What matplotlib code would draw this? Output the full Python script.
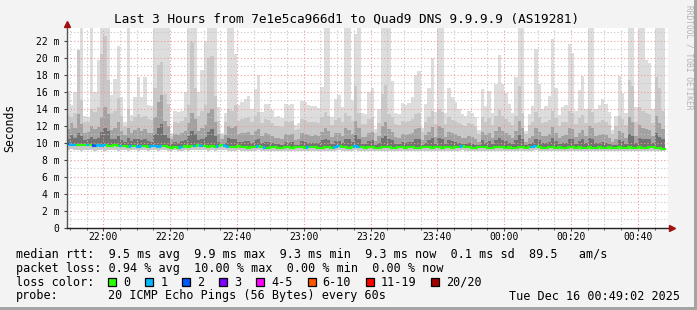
import numpy as np
import pandas as pd
import matplotlib
matplotlib.use("Agg")
import matplotlib.pyplot as plt
import matplotlib.dates as mdates
from matplotlib.collections import LineCollection
from matplotlib.patches import Rectangle

# ==========================================
# 1. Data (1 step = 60 s)
# ==========================================
START = "2025-12-15 21:49:00"
GRAPH_START = pd.Timestamp("2025-12-15 21:49:02")
GRAPH_END = pd.Timestamp("2025-12-16 00:49:02")

# top of the smoke (slowest ping), ms; 26 = clipped at the top of the graph
ping_max = [
    16.1, 14.4, 16.0, 20.9, 26.0, 13.2, 13.0, 26.0, 16.0, 19.7,
    26.0, 26.0, 26.0, 15.6, 17.5, 21.4, 15.4, 12.4, 26.0, 13.3,
    15.4, 17.7, 15.4, 17.7, 14.4, 14.3, 26.0, 26.0, 26.0, 26.0,
    26.0, 11.1, 13.8, 13.6, 13.8, 16.0, 26.0, 26.0, 26.0, 16.0,
    18.5, 22.0, 26.0, 26.0, 26.0, 14.2, 11.2, 13.5, 26.0, 26.0,
    20.4, 14.5, 14.8, 15.1, 15.5, 14.0, 16.3, 18.0, 13.6, 14.6,
    14.6, 13.9, 13.0, 13.1, 12.9, 14.6, 14.5, 14.6, 12.1, 12.3,
    14.9, 14.8, 14.4, 14.3, 14.3, 14.1, 16.6, 26.0, 26.0, 13.0,
    15.2, 15.6, 14.2, 26.0, 26.0, 15.0, 22.8, 26.0, 13.5, 13.4,
    16.0, 16.4, 11.6, 14.0, 26.0, 26.0, 26.0, 17.3, 13.5, 13.4,
    14.7, 14.5, 14.7, 15.4, 18.0, 18.4, 11.8, 14.6, 16.4, 20.0,
    13.6, 26.0, 26.0, 13.5, 16.4, 15.4, 14.8, 14.0, 13.4, 13.2,
    13.8, 13.5, 13.0, 11.5, 16.3, 14.3, 16.1, 13.5, 16.9, 20.3,
    16.9, 15.8, 14.6, 13.5, 17.7, 26.0, 26.0, 11.4, 13.4, 14.3,
    21.0, 16.9, 14.0, 14.3, 15.5, 22.2, 16.4, 13.3, 14.2, 14.5,
    21.6, 20.6, 13.7, 16.2, 17.9, 14.0, 26.0, 26.0, 14.0, 14.5,
    15.2, 14.6, 13.6, 11.5, 13.2, 17.8, 15.9, 13.5, 26.0, 26.0,
    14.2, 26.0, 26.0, 19.7, 19.4, 14.0, 26.0, 26.0, 26.0,
]

# upper edge of the second smoke band
ping_q2 = [
    13.2, 13.0, 13.5, 20.9, 15.0, 12.5, 12.4, 14.0, 13.6, 14.2,
    20.4, 22.5, 17.4, 13.5, 13.8, 15.3, 13.2, 11.9, 14.0, 12.6,
    13.0, 13.4, 13.0, 13.2, 12.8, 12.7, 16.5, 19.1, 19.5, 15.7,
    14.6, 10.8, 12.5, 12.3, 12.6, 13.0, 14.5, 21.9, 16.5, 13.2,
    13.8, 14.5, 20.0, 20.2, 15.5, 12.6, 10.9, 12.4, 14.0, 13.8,
    14.5, 12.6, 12.8, 12.9, 13.0, 12.4, 13.1, 13.6, 12.3, 12.8,
    12.7, 12.3, 12.0, 12.0, 11.9, 12.6, 12.5, 12.6, 11.5, 11.6,
    12.8, 12.7, 12.5, 12.4, 12.5, 12.3, 13.0, 13.6, 13.2, 12.1,
    12.7, 12.9, 12.4, 13.5, 13.2, 12.6, 16.7, 13.5, 12.2, 12.2,
    12.8, 13.0, 11.2, 12.3, 15.7, 16.8, 13.4, 13.0, 12.2, 12.1,
    12.6, 12.5, 12.6, 12.8, 13.4, 13.5, 11.3, 12.5, 13.0, 13.8,
    12.2, 14.0, 13.6, 12.2, 13.0, 12.7, 12.6, 12.3, 12.1, 12.0,
    12.3, 12.2, 11.9, 11.0, 13.0, 12.4, 12.9, 12.1, 13.1, 13.9,
    13.1, 12.8, 12.5, 12.1, 13.2, 16.7, 13.5, 11.0, 12.1, 12.4,
    13.6, 13.0, 12.3, 12.4, 12.7, 13.8, 12.9, 12.0, 12.4, 12.5,
    13.7, 13.5, 12.2, 12.9, 13.3, 12.3, 14.0, 13.6, 12.3, 12.5,
    12.7, 12.5, 12.1, 11.0, 12.0, 13.2, 12.8, 12.1, 17.4, 16.7,
    12.4, 14.2, 13.8, 13.5, 13.4, 12.3, 17.7, 16.4, 13.8,
]

# upper edge of the third smoke band
ping_q3 = [
    11.6, 12.3, 11.8, 13.4, 12.2, 11.2, 11.3, 12.0, 11.6, 11.9,
    13.0, 14.2, 13.4, 11.5, 11.7, 12.4, 11.4, 10.9, 11.8, 11.2,
    11.5, 11.8, 11.4, 11.6, 11.2, 11.1, 13.0, 14.8, 15.6, 12.6,
    12.0, 10.4, 11.0, 10.9, 11.1, 11.4, 12.3, 13.5, 12.8, 11.4,
    11.8, 12.1, 13.5, 14.0, 12.4, 11.0, 10.4, 10.9, 12.0, 11.7,
    12.0, 11.0, 11.1, 11.2, 11.3, 10.9, 11.4, 11.6, 10.8, 11.1,
    11.0, 10.8, 10.6, 10.6, 10.5, 11.0, 10.9, 11.0, 10.3, 10.4,
    11.1, 11.0, 10.9, 10.8, 10.9, 10.8, 11.3, 11.8, 11.4, 10.7,
    11.1, 11.2, 10.8, 11.7, 11.5, 11.0, 12.6, 11.7, 10.7, 10.7,
    11.1, 11.3, 10.2, 10.8, 12.0, 12.4, 11.6, 11.3, 10.7, 10.6,
    11.0, 10.9, 11.0, 11.1, 11.6, 11.7, 10.3, 10.9, 11.3, 11.9,
    10.7, 12.0, 11.7, 10.7, 11.3, 11.1, 11.0, 10.8, 10.6, 10.6,
    10.8, 10.7, 10.5, 10.1, 11.3, 10.9, 11.2, 10.6, 11.4, 11.9,
    11.4, 11.1, 10.9, 10.6, 11.4, 12.6, 11.7, 10.1, 10.6, 10.8,
    11.8, 11.3, 10.8, 10.8, 11.0, 11.9, 11.2, 10.6, 10.8, 10.9,
    11.8, 11.6, 10.7, 11.2, 11.5, 10.8, 12.0, 11.7, 10.8, 10.9,
    11.0, 10.9, 10.6, 10.1, 10.5, 11.4, 11.1, 10.6, 13.0, 12.4,
    10.8, 12.1, 11.8, 11.6, 11.5, 10.8, 13.2, 12.3, 11.6,
]

# upper edge of the dark core of the smoke
ping_q4 = [
    10.5, 10.9, 10.6, 11.2, 10.8, 10.3, 10.4, 10.7, 10.5, 10.6,
    11.3, 11.8, 11.4, 10.4, 10.5, 10.8, 10.3, 10.1, 10.6, 10.2,
    10.4, 10.5, 10.3, 10.4, 10.2, 10.1, 11.0, 11.7, 12.2, 10.9,
    10.6, 9.9, 10.1, 10.0, 10.2, 10.3, 10.8, 11.4, 11.0, 10.3,
    10.5, 10.7, 11.3, 11.6, 10.8, 10.1, 9.9, 10.0, 10.6, 10.4,
    10.5, 10.1, 10.1, 10.2, 10.2, 10.0, 10.3, 10.4, 10.0, 10.1,
    10.1, 10.0, 9.9, 9.9, 9.8, 10.1, 10.0, 10.1, 9.8, 9.8,
    10.2, 10.1, 10.0, 10.0, 10.0, 10.0, 10.3, 10.5, 10.3, 9.9,
    10.2, 10.2, 10.0, 10.5, 10.4, 10.1, 10.9, 10.5, 9.9, 9.9,
    10.2, 10.3, 9.8, 10.0, 10.6, 10.8, 10.4, 10.3, 9.9, 9.9,
    10.1, 10.0, 10.1, 10.1, 10.4, 10.5, 9.8, 10.0, 10.3, 10.6,
    9.9, 10.6, 10.5, 9.9, 10.3, 10.2, 10.1, 10.0, 9.9, 9.9,
    10.0, 9.9, 9.8, 9.7, 10.3, 10.0, 10.2, 9.9, 10.3, 10.6,
    10.3, 10.2, 10.0, 9.9, 10.3, 10.9, 10.5, 9.7, 9.9, 10.0,
    10.5, 10.3, 10.0, 10.0, 10.1, 10.6, 10.2, 9.9, 10.0, 10.0,
    10.5, 10.4, 9.9, 10.2, 10.4, 10.0, 10.6, 10.5, 10.0, 10.0,
    10.1, 10.0, 9.9, 9.7, 9.8, 10.3, 10.2, 9.9, 11.0, 10.8,
    10.0, 10.6, 10.5, 10.4, 10.4, 10.0, 11.1, 10.7, 10.4,
]

# fastest ping
ping_min = [
    9.2, 9.3, 9.2, 9.2, 9.1, 9.2, 9.2, 9.2, 9.1, 9.2,
    9.2, 9.1, 9.2, 9.2, 9.2, 9.1, 9.2, 9.2, 9.1, 9.2,
    9.2, 9.1, 9.2, 9.2, 9.1, 9.2, 9.2, 9.1, 9.2, 9.2,
    9.1, 9.1, 9.2, 9.1, 9.1, 9.2, 9.1, 9.2, 9.2, 9.2,
    9.2, 9.2, 9.1, 9.2, 9.1, 9.2, 9.2, 9.2, 9.1, 9.1,
    9.1, 9.2, 9.1, 9.1, 9.1, 9.1, 9.1, 9.2, 9.1, 9.1,
    9.1, 9.1, 9.1, 9.1, 9.1, 9.1, 9.1, 9.1, 9.1, 9.1,
    9.1, 9.1, 9.1, 9.1, 9.1, 9.1, 9.1, 9.1, 9.1, 9.1,
    9.1, 9.2, 9.1, 9.1, 9.1, 9.1, 9.2, 9.1, 9.1, 9.1,
    9.1, 9.1, 9.1, 9.1, 9.1, 9.1, 9.1, 9.1, 9.1, 9.1,
    9.1, 9.1, 9.1, 9.1, 9.1, 9.1, 9.1, 9.1, 9.1, 9.1,
    9.1, 9.1, 9.1, 9.1, 9.1, 9.1, 9.1, 9.1, 9.2, 9.1,
    9.1, 9.1, 9.1, 9.1, 9.1, 9.1, 9.1, 9.1, 9.1, 9.1,
    9.1, 9.1, 9.1, 9.1, 9.1, 9.1, 9.1, 9.1, 9.1, 9.1,
    9.2, 9.1, 9.1, 9.1, 9.1, 9.1, 9.1, 9.1, 9.1, 9.1,
    9.1, 9.1, 9.1, 9.1, 9.1, 9.1, 9.1, 9.1, 9.1, 9.1,
    9.1, 9.1, 9.1, 9.1, 9.1, 9.1, 9.1, 9.1, 9.1, 9.1,
    9.1, 9.1, 9.1, 9.1, 9.1, 9.1, 9.1, 9.1, 9.0,
]

median_rtt = [
    9.9, 9.8, 9.8, 9.7, 9.7, 9.8, 9.7, 9.7, 9.6, 9.7,
    9.6, 9.7, 9.6, 9.6, 9.7, 9.6, 9.6, 9.6, 9.5, 9.6,
    9.6, 9.5, 9.6, 9.6, 9.5, 9.6, 9.6, 9.5, 9.6, 9.6,
    9.5, 9.4, 9.5, 9.4, 9.5, 9.6, 9.5, 9.6, 9.6, 9.7,
    9.6, 9.6, 9.5, 9.6, 9.5, 9.6, 9.7, 9.6, 9.5, 9.5,
    9.5, 9.6, 9.5, 9.5, 9.4, 9.5, 9.5, 9.6, 9.5, 9.4,
    9.4, 9.5, 9.5, 9.4, 9.4, 9.5, 9.5, 9.4, 9.5, 9.5,
    9.5, 9.4, 9.5, 9.5, 9.5, 9.4, 9.4, 9.5, 9.5, 9.4,
    9.5, 9.6, 9.5, 9.5, 9.4, 9.5, 9.6, 9.5, 9.5, 9.4,
    9.5, 9.5, 9.4, 9.4, 9.5, 9.5, 9.5, 9.4, 9.4, 9.5,
    9.5, 9.4, 9.5, 9.5, 9.4, 9.4, 9.5, 9.5, 9.5, 9.4,
    9.5, 9.5, 9.4, 9.5, 9.5, 9.4, 9.5, 9.5, 9.6, 9.5,
    9.5, 9.4, 9.4, 9.5, 9.5, 9.5, 9.4, 9.4, 9.5, 9.5,
    9.5, 9.4, 9.5, 9.4, 9.4, 9.5, 9.5, 9.4, 9.5, 9.5,
    9.6, 9.5, 9.4, 9.4, 9.5, 9.5, 9.4, 9.5, 9.4, 9.4,
    9.5, 9.5, 9.4, 9.5, 9.4, 9.4, 9.5, 9.4, 9.4, 9.5,
    9.4, 9.4, 9.5, 9.4, 9.4, 9.5, 9.4, 9.4, 9.5, 9.4,
    9.4, 9.5, 9.4, 9.4, 9.5, 9.5, 9.4, 9.4, 9.3,
]

# lost pings out of 20 per step
loss = [
    2, 1, 1, 0, 0, 0, 1, 0, 2, 1,
    1, 1, 0, 0, 0, 0, 1, 0, 0, 1,
    0, 1, 1, 0, 0, 1, 1, 1, 1, 0,
    0, 0, 0, 0, 1, 0, 0, 0, 1, 0,
    1, 0, 0, 0, 0, 1, 0, 1, 1, 0,
    0, 0, 0, 0, 0, 0, 0, 1, 0, 1,
    0, 0, 0, 0, 0, 0, 0, 0, 0, 0,
    0, 0, 1, 0, 0, 0, 0, 0, 0, 0,
    1, 1, 0, 0, 0, 0, 1, 1, 0, 0,
    0, 0, 0, 0, 0, 0, 0, 0, 0, 0,
    0, 0, 0, 0, 0, 0, 0, 0, 0, 0,
    0, 0, 0, 0, 0, 0, 0, 0, 1, 0,
    0, 0, 0, 0, 0, 0, 0, 0, 0, 0,
    0, 0, 0, 0, 0, 0, 0, 0, 0, 1,
    1, 0, 0, 0, 0, 0, 0, 0, 0, 0,
    0, 0, 0, 0, 0, 0, 0, 0, 0, 0,
    0, 0, 0, 0, 0, 0, 0, 0, 0, 0,
    0, 0, 0, 0, 0, 0, 0, 0, 0,
]

LOSS_LABELS = ["0", "1", "2", "3", "4-5", "6-10", "11-19", "20/20"]
LOSS_COLORS = ["#26ff00", "#00b8ff", "#0059ff", "#7e00ff",
               "#ff00ff", "#ff5500", "#ff0000", "#a10000"]
LOSS_BINS = [0, 1, 2, 3, 5, 10, 19, 20]

TITLE = "Last 3 Hours from 7e1e5ca966d1 to Quad9 DNS 9.9.9.9 (AS19281)"
LINE_RTT = "median rtt:  9.5 ms avg  9.9 ms max  9.3 ms min  9.3 ms now  0.1 ms sd  89.5   am/s"
LINE_LOSS = "packet loss: 0.94 % avg  10.00 % max  0.00 % min  0.00 % now"
PROBE = "20 ICMP Echo Pings (56 Bytes) every 60s"
STAMP = "Tue Dec 16 00:49:02 2025"

Y_TICKS = [0, 2, 4, 6, 8, 10, 12, 14, 16, 18, 20, 22]
Y_MAX = 23.49

# ==========================================
# 2. Figure
# ==========================================
W, H = 697, 310
MONO = "DejaVu Sans Mono"
plt.rcParams["font.family"] = MONO
BG = "#f3f3f3"


def px(x, y):
    return x / W, 1 - y / H


fig = plt.figure(figsize=(W / 100, H / 100), dpi=100, facecolor=BG)
ax_l, ax_r, ax_t, ax_b = 66.7, 668.0, 28.0, 228.0
ax = fig.add_axes([ax_l / W, 1 - ax_b / H, (ax_r - ax_l) / W, (ax_b - ax_t) / H])
ax.set_facecolor("white")

n = len(ping_max)
edges = pd.date_range(START, periods=n + 1, freq="1min")
xe = mdates.date2num(edges)


def ext(a):
    return np.append(a, a[-1])


lo = ext(ping_min)
med = np.array(median_rtt)
smoke = [
    (lo, ext(ping_max), "#dddddd"),
    (lo, ext(ping_q2), "#c8c8c8"),
    (ext(med), ext(ping_q3), "#a2a2a2"),
    (ext(med), ext(ping_q4), "#727272"),
]
for bot, top, col in smoke:
    ax.fill_between(xe, bot, top, step="post", color=col, linewidth=0,
                    antialiased=False, zorder=1)

# median line coloured by loss
def loss_color(k):
    for b, c in zip(LOSS_BINS, LOSS_COLORS):
        if k <= b:
            return c
    return LOSS_COLORS[-1]


segs, cols = [], []
for i in range(n):
    c = loss_color(loss[i])
    segs.append([(xe[i], med[i]), (xe[i + 1], med[i])])
    cols.append(c)
    if i > 0 and med[i] != med[i - 1]:
        segs.append([(xe[i], med[i - 1]), (xe[i], med[i])])
        cols.append(c)
ax.add_collection(LineCollection(segs, colors=cols, linewidths=1.5,
                                 capstyle="projecting", zorder=3))

ax.set_xlim(mdates.date2num(GRAPH_START), mdates.date2num(GRAPH_END))
ax.set_ylim(0, Y_MAX)

# grid: grey dotted minor, red dotted major
ax.xaxis.set_major_locator(mdates.MinuteLocator(byminute=[0, 20, 40]))
ax.xaxis.set_minor_locator(mdates.MinuteLocator(byminute=range(0, 60, 5)))
ax.xaxis.set_major_formatter(mdates.DateFormatter("%H:%M"))
ax.set_yticks(Y_TICKS)
ax.set_yticks(np.arange(1, 24, 2), minor=True)
ax.set_yticklabels(["0"] + [f"{v} m" for v in Y_TICKS[1:]])
ax.set_axisbelow(False)
ax.grid(which="minor", color="#c4c4c4", linestyle=(0, (1, 2)), linewidth=0.8)
ax.grid(which="major", color="#f09a9a", linestyle=(0, (1, 2)), linewidth=0.8)

ax.tick_params(which="both", labelsize=7, colors="#444444", labelcolor="black")
ax.tick_params(axis="y", which="major", length=2, pad=3.2)
ax.tick_params(axis="y", which="minor", length=0)
ax.tick_params(axis="x", which="major", length=2, pad=1.2)
ax.tick_params(axis="x", which="minor", length=1.5)
for s in ax.spines.values():
    s.set_visible(False)

# axes with arrows
ax.plot([0, 0], [0, 1.02], transform=ax.transAxes, color="#555555",
        linewidth=1, clip_on=False, zorder=4)
ax.plot([0, 1.004], [0, 0], transform=ax.transAxes, color="#222222",
        linewidth=1, clip_on=False, zorder=4)
ax.plot([0], [1.022], marker="^", markersize=4.5, color="#a01010",
        transform=ax.transAxes, clip_on=False, zorder=5)
ax.plot([1.007], [0], marker=">", markersize=4.5, color="#a01010",
        transform=ax.transAxes, clip_on=False, zorder=5)

# ==========================================
# 3. Texts / legend
# ==========================================
fig.text(*px(347, 19.3), TITLE, ha="center", va="center", fontsize=9.2)
fig.text(*px(10, 128), "Seconds", ha="center", va="center",
         rotation=90, fontsize=8.3)
fig.text(*px(689.5, 5), "RRDTOOL / TOBI OETIKER", ha="center", va="top",
         rotation=270, fontsize=5.7, color="#b4b4b4")

LEG = 8.5
CH = 7.1  # char advance in px
fig.text(*px(16, 254.3), LINE_RTT, va="center", fontsize=LEG)
fig.text(*px(16, 268.3), LINE_LOSS, va="center", fontsize=LEG)
fig.text(*px(16, 282.3), "loss color:", va="center", fontsize=LEG)
fig.text(*px(16, 296.0), "probe:", va="center", fontsize=LEG)
fig.text(*px(108.3, 296.0), PROBE, va="center", fontsize=LEG)
fig.text(*px(680, 296.0), STAMP, ha="right", va="center", fontsize=LEG)

bx = 108.3
for lab, col in zip(LOSS_LABELS, LOSS_COLORS):
    x0, y0 = px(bx, 286.3)
    fig.patches.append(Rectangle((x0, y0), 8 / W, 8 / H, transform=fig.transFigure,
                                 facecolor=col, edgecolor="black", linewidth=0.9))
    fig.text(*px(bx + 15, 282.3), lab, va="center", fontsize=LEG)
    bx = bx + 15 + len(lab) * CH + 14.9

# frame shading
fig.patches.append(Rectangle((0, 0), 1, 3 / H, transform=fig.transFigure,
                             facecolor="#a4a4a4", edgecolor="none"))
fig.patches.append(Rectangle((1 - 3 / W, 0), 3 / W, 1, transform=fig.transFigure,
                             facecolor="#a4a4a4", edgecolor="none"))

fig.savefig("out.png", dpi=100, facecolor=BG)
